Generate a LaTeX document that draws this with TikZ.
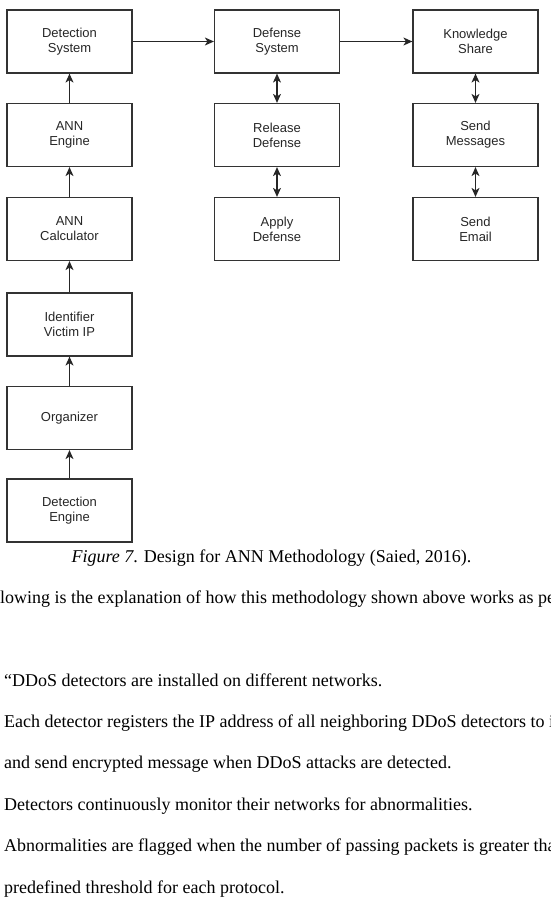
\documentclass[tikz,border=0pt]{standalone}
\usepackage{fontspec}
\setmainfont{Liberation Serif}
\newfontfamily\arial{Liberation Sans}
\usetikzlibrary{arrows.meta}
\begin{document}
\begin{tikzpicture}[x=1pt, y=-1pt,
  box/.style={draw=black!80, line width=1.2pt, minimum width=125pt, minimum height=63pt,
    inner sep=0pt, align=center, text=black!85, font=\arial\fontsize{13}{15}\selectfont},
  link/.style={draw=black!85, line width=1.2pt, -{Stealth[length=9pt,width=8pt,inset=2.5pt]}},
  dlink/.style={draw=black!85, line width=1.2pt,
    {Stealth[length=9pt,width=8pt,inset=2.5pt]}-{Stealth[length=9pt,width=8pt,inset=2.5pt]}},
  body/.style={inner sep=0pt, anchor=base west, font=\fontsize{18}{20}\selectfont}]
%
\useasboundingbox (0,0) rectangle (550,903);
\clip (0,0) rectangle (550,903);
%
\node[box] (detsys) at (69.5,41.5) {Detection\\System};
\node[box] (annengine) at (69.5,135) {ANN\\Engine};
\node[box] (anncalc) at (69.5,229) {ANN\\Calculator};
\node[box] (victim) at (69.5,324.5) {Identifier\\Victim IP};
\node[box] (organizer) at (69.5,418) {Organizer};
\node[box] (detengine) at (69.5,510.5) {Detection\\Engine};
%
\node[box] (defsys) at (277,41.5) {Defense\\System};
\node[box] (reldef) at (277,135) {Release\\Defense};
\node[box] (applydef) at (277,229) {Apply\\Defense};
%
\node[box] (share) at (475.5,41.5) {Knowledge\\Share};
\node[box] (sendmsg) at (475.5,135) {Send\\Messages};
\node[box] (email) at (475.5,229) {Send\\Email};
%
\foreach \a/\b in {detengine/organizer, organizer/victim, victim/anncalc,
  anncalc/annengine, annengine/detsys, detsys/defsys, defsys/share}
  \draw[link] (\a) -- (\b);
\foreach \a/\b in {defsys/reldef, reldef/applydef, share/sendmsg, sendmsg/email}
  \draw[dlink] (\a) -- (\b);
%
\node[body, anchor=base] (caption) at (271.5,562.7)
  {\textit{Figure 7}. Design for ANN Methodology (Saied, 2016).};
\node[body] (intro) at (0,603.5)
  {lowing is the explanation of how this methodology shown above works as pe};
%
\node[body] (line1) at (4,686.7) {“DDoS detectors are installed on different networks.};
\node[body] (line2) at (4,727) {Each detector registers the IP address of all neighboring DDoS detectors to i};
\node[body] (line3) at (4,768.3) {and send encrypted message when DDoS attacks are detected.};
\node[body] (line4) at (4,810) {Detectors continuously monitor their networks for abnormalities.};
\node[body] (line5) at (4,851.7) {Abnormalities are flagged when the number of passing packets is greater tha};
\node[body] (line6) at (4,893) {predefined threshold for each protocol.};
%
\end{tikzpicture}
\end{document}
